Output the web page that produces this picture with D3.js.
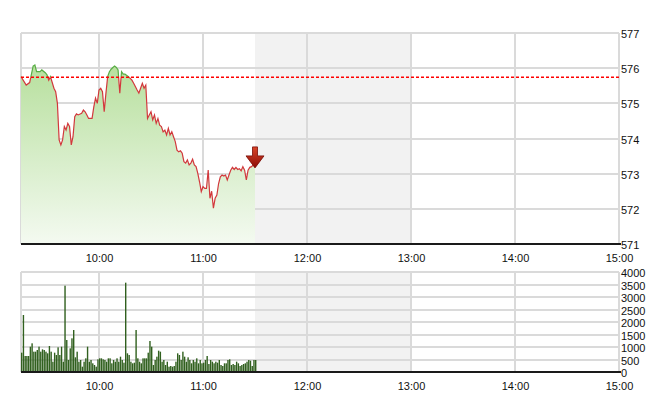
<!DOCTYPE html>
<html><head><meta charset="utf-8">
<script src="https://cdn.jsdelivr.net/npm/d3@7"></script>
<style>
body{margin:0;background:#fff;}
text{font-family:"Liberation Sans",Arial,sans-serif;font-size:11px;fill:#111;}
</style></head>
<body><svg id="c" width="660" height="412"></svg>
<script>
const priceTimes = ["09:15","09:18","09:20","09:22","09:23","09:24","09:26","09:27","09:29","09:30","09:31","09:32","09:34","09:35","09:36","09:37","09:38","09:39","09:40","09:41","09:42","09:43","09:44","09:45","09:46","09:47","09:48","09:50","09:51","09:52","09:53","09:54","09:56","09:57","09:58","09:59","10:00","10:01","10:02","10:03","10:04","10:05","10:06","10:07","10:08","10:09","10:10","10:11","10:12","10:13","10:14","10:15","10:17","10:19","10:20","10:22","10:23","10:24","10:25","10:26","10:27","10:28","10:29","10:30","10:31","10:32","10:33","10:34","10:35","10:36","10:37","10:38","10:39","10:40","10:41","10:42","10:43","10:44","10:45","10:46","10:47","10:48","10:49","10:50","10:51","10:52","10:53","10:54","10:55","10:56","10:57","10:58","10:59","11:00","11:01","11:02","11:03","11:04","11:05","11:06","11:07","11:08","11:09","11:10","11:11","11:12","11:13","11:14","11:15","11:16","11:17","11:18","11:19","11:20","11:21","11:22","11:23","11:24","11:25","11:26","11:27","11:28","11:29","11:30"];
const prices = [575.76,575.52,575.59,576.06,576.09,575.90,575.90,575.95,575.87,575.81,575.66,575.76,575.43,575.33,575.00,573.96,573.82,573.96,574.34,574.24,574.43,574.34,573.82,574.05,574.62,574.70,574.67,574.72,574.81,574.76,574.67,574.57,574.57,574.90,575.15,575.00,575.38,575.43,575.33,574.76,575.29,575.76,575.90,575.97,576.02,576.06,576.02,575.95,575.29,575.90,575.83,575.83,575.76,575.66,575.57,575.38,575.29,575.43,575.57,575.43,575.52,574.57,574.67,574.76,574.53,574.67,574.43,574.57,574.38,574.34,574.19,574.24,574.10,574.29,574.10,574.19,574.05,573.91,573.67,573.62,573.65,573.58,573.34,573.30,573.39,573.25,573.30,573.41,573.25,573.20,573.01,572.77,572.49,572.63,572.58,572.58,573.10,572.30,572.50,572.02,572.30,572.39,572.72,572.91,572.96,572.93,572.96,572.82,572.96,573.10,573.18,573.12,573.18,573.12,573.14,573.08,573.20,573.10,572.82,573.10,573.18,573.20,573.25,573.25];
const prevClose = 575.74;
const volumeStart = "09:15";
const volumes = [773,2280,640,640,640,1013,1147,813,813,880,1013,813,907,880,813,747,1040,813,413,773,
680,987,680,1013,413,3453,1280,480,947,1347,1680,587,813,413,480,213,413,547,1013,413,
480,347,280,213,507,547,547,507,480,413,547,547,347,480,413,547,413,613,480,373,
3573,747,680,413,347,373,1680,547,413,347,547,547,547,773,1240,1013,280,480,613,853,
813,413,480,280,413,213,240,213,240,413,747,680,480,813,613,413,587,480,347,480,413,547,347,
480,347,373,480,640,320,480,413,347,413,373,480,280,240,347,347,480,507,280,320,280,413,347,240,280,320,347,413,480,453,240,480,480];
const priceTicks = [571,572,573,574,575,576,577];
const volumeTicks = [0,500,1000,1500,2000,2500,3000,3500,4000];
const timeTicks = ["10:00","11:00","12:00","13:00","14:00","15:00"];
const sessionStart = "09:15", sessionEnd = "15:00";
const lunchStart = "11:30", lunchEnd = "13:00";

const parse = d3.timeParse("%H:%M");
const fmt = d3.timeFormat("%H:%M");
const svg = d3.select("#c");
const L = 21, R = 619;
const x = d3.scaleTime().domain([parse(sessionStart), parse(sessionEnd)]).range([L, R]);
const yP = d3.scaleLinear().domain([571, 577]).range([244, 33]);
const yV = d3.scaleLinear().domain([0, 4000]).range([372, 272]);
const gridC = "#dadada";

function panel(y, ticks, top, bottom) {
  const g = svg.append("g");
  g.append("rect").attr("x", x(parse(lunchStart))).attr("y", top)
    .attr("width", x(parse(lunchEnd)) - x(parse(lunchStart))).attr("height", bottom - top).attr("fill", "#f2f2f2");
  g.selectAll(".h").data(ticks).join("line")
    .attr("x1", L).attr("x2", R).attr("y1", d => Math.round(y(d))).attr("y2", d => Math.round(y(d)))
    .attr("stroke", gridC).attr("stroke-width", 2);
  const vt = [parse(sessionStart)].concat(timeTicks.map(parse));
  g.selectAll(".v").data(vt).join("line")
    .attr("x1", d => Math.round(x(d))).attr("x2", d => Math.round(x(d))).attr("y1", top).attr("y2", bottom)
    .attr("stroke", gridC).attr("stroke-width", 2);
  return g;
}

panel(yP, priceTicks, 33, 244);
panel(yV, volumeTicks, 272, 372);

// price area and line
const data = priceTimes.map((t, i) => ({t: parse(t), p: prices[i]}));
const defs = svg.append("defs");
const grad = defs.append("linearGradient").attr("id", "gf").attr("gradientUnits", "userSpaceOnUse")
  .attr("x1", 0).attr("x2", 0).attr("y1", yP(576.2)).attr("y2", yP(571));
grad.append("stop").attr("offset", 0).attr("stop-color", "#b6df9c");
grad.append("stop").attr("offset", 1).attr("stop-color", "#f4faf1");
const refY = yP(prevClose);
defs.append("clipPath").attr("id", "above").append("rect").attr("x", 0).attr("y", 0).attr("width", 660).attr("height", refY);
defs.append("clipPath").attr("id", "below").append("rect").attr("x", 0).attr("y", refY).attr("width", 660).attr("height", 412);

svg.append("path").datum(data)
  .attr("d", d3.area().x(d => x(d.t)).y0(yP(571)).y1(d => yP(d.p)))
  .attr("fill", "url(#gf)");
const line = d3.line().x(d => x(d.t)).y(d => yP(d.p));
svg.append("path").datum(data).attr("d", line).attr("fill", "none")
  .attr("stroke", "#d2383c").attr("stroke-width", 1.2).attr("clip-path", "url(#below)");
svg.append("path").datum(data).attr("d", line).attr("fill", "none")
  .attr("stroke", "#58ad45").attr("stroke-width", 1.2).attr("clip-path", "url(#above)");

// previous close line
svg.append("line").attr("x1", L).attr("x2", R).attr("y1", refY).attr("y2", refY)
  .attr("stroke", "#ff0000").attr("stroke-width", 1.5).attr("stroke-dasharray", "3,2");

// arrow at last point
const last = data[data.length - 1];
const ax = x(last.t), ay = yP(last.p);
const ag = defs.append("linearGradient").attr("id", "ag").attr("x1", 0).attr("x2", 0).attr("y1", 0).attr("y2", 1);
ag.append("stop").attr("offset", 0).attr("stop-color", "#d9462a");
ag.append("stop").attr("offset", 1).attr("stop-color", "#8c0b06");
svg.append("path")
  .attr("d", `M${ax-2.5},${ay-18} L${ax+2.5},${ay-18} L${ax+2.5},${ay-9} L${ax+9},${ay-9} L${ax},${ay+3} L${ax-9},${ay-9} L${ax-2.5},${ay-9} Z`)
  .attr("fill", "url(#ag)").attr("stroke", "#7a0c06").attr("stroke-width", 0.8);

// volume bars
const vStart = parse(volumeStart);
const vdata = volumes.map((v, i) => ({t: d3.timeMinute.offset(vStart, i), v}));
svg.append("g").selectAll("rect").data(vdata).join("rect")
  .attr("x", d => x(d.t)).attr("width", 1.4)
  .attr("y", d => yV(d.v)).attr("height", d => yV(0) - yV(d.v))
  .attr("fill", "#31601f");

// axis lines
[[244],[372]].forEach(([yy]) => {
  svg.append("line").attr("x1", L).attr("x2", R + 2).attr("y1", yy).attr("y2", yy)
    .attr("stroke", "#1a1a1a").attr("stroke-width", 2);
});

// axes labels
function rightAxis(y, ticks, dy) {
  const g = svg.append("g").attr("transform", `translate(${R},0)`)
    .call(d3.axisRight(y).tickValues(ticks).tickSize(0).tickPadding(2).tickFormat(d3.format("d")));
  g.select(".domain").remove();
  g.selectAll("text").attr("dy", dy).style("font-family", '"Liberation Sans",Arial,sans-serif').style("font-size", "11px").attr("fill", "#111");
}
rightAxis(yP, priceTicks, "0.42em");
rightAxis(yV, volumeTicks, "0.45em");

function timeAxis(yy) {
  const g = svg.append("g").attr("transform", `translate(0,${yy})`)
    .call(d3.axisBottom(x).tickValues(timeTicks.map(parse)).tickSize(0).tickPadding(10).tickFormat(fmt));
  g.select(".domain").remove();
  g.selectAll("text").style("font-family", '"Liberation Sans",Arial,sans-serif').style("font-size", "11px").attr("fill", "#111");
}
timeAxis(244);
timeAxis(372);
</script></body></html>
